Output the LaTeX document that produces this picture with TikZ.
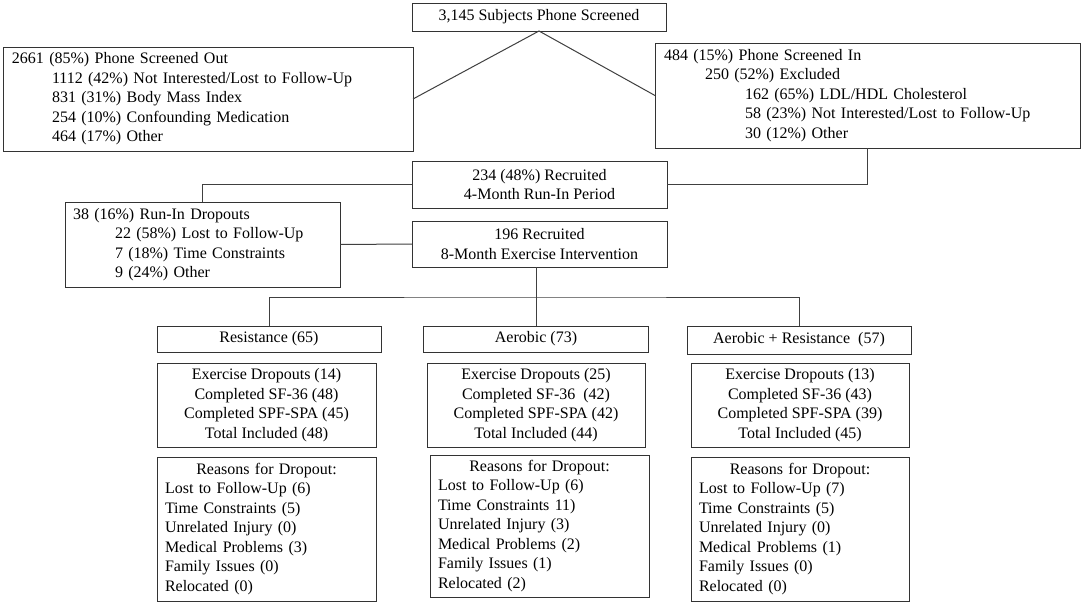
\documentclass[tikz,border=0pt]{standalone}
\usepackage{fontspec}
\setmainfont{Liberation Serif}
\begin{document}
\begin{tikzpicture}[x=1pt,y=-1pt,
  every node/.style={font=\fontsize{16}{19.5}\selectfont},
  box/.style={draw=black!80, line width=1pt, inner sep=0pt, outer sep=0pt},
  conn/.style={draw=black!75, line width=1pt}]
\useasboundingbox (0,0) rectangle (1084,605);
\fill[white] (0,0) rectangle (1084,605);

% top level
\node[box, minimum width=254pt, minimum height=28pt] (top) at (539,17) {3,145 Subjects Phone Screened};

\node[box, align=left, text width=392pt, inner xsep=9pt, minimum height=104pt] (scrOut) at (208,99)
 {2661 (85\%) Phone Screened Out\\
  \hspace*{40pt}1112 (42\%) Not Interested/Lost to Follow-Up\\
  \hspace*{40pt}831 (31\%) Body Mass Index\\
  \hspace*{40pt}254 (10\%) Confounding Medication\\
  \hspace*{40pt}464 (17\%) Other};

\node[box, align=left, text width=407pt, inner xsep=9pt, minimum height=105pt] (scrIn) at (867.5,95.5)
 {484 (15\%) Phone Screened In\\
  \hspace*{41pt}250 (52\%) Excluded\\
  \hspace*{81pt}162 (65\%) LDL/HDL Cholesterol\\
  \hspace*{81pt}58 (23\%) Not Interested/Lost to Follow-Up\\
  \hspace*{81pt}30 (12\%) Other};

\node[box, align=center, minimum width=255pt, minimum height=47pt] (recr) at (539.5,184.5)
 {234 (48\%) Recruited\\ 4-Month Run-In Period};

\node[box, align=left, text width=259pt, inner xsep=8pt, minimum height=85pt] (runin) at (202.5,244.5)
 {38 (16\%) Run-In Dropouts\\
  \hspace*{42pt}22 (58\%) Lost to Follow-Up\\
  \hspace*{42pt}7 (18\%) Time Constraints\\
  \hspace*{42pt}9 (24\%) Other};

\node[box, align=center, minimum width=255pt, minimum height=46pt] (interv) at (539.5,244)
 {196 Recruited\\ 8-Month Exercise Intervention};

% groups
\node[box, minimum width=224pt, minimum height=26pt] (res) at (269,339) {Resistance (65)};
\node[box, minimum width=225pt, minimum height=26pt] (aer) at (536,339) {Aerobic (73)};
\node[box, minimum width=224pt, minimum height=28pt] (ar) at (799,340) {Aerobic + Resistance\ \ (57)};

% stats
\node[box, align=center, minimum width=219pt, minimum height=84pt] (resS) at (266.5,405)
 {Exercise Dropouts (14)\\ Completed SF-36 (48)\\ Completed SPF-SPA (45)\\ Total Included (48)};
\node[box, align=center, minimum width=218pt, minimum height=84pt] (aerS) at (536,405)
 {Exercise Dropouts (25)\\ Completed SF-36\ \ (42)\\ Completed SPF-SPA (42)\\ Total Included (44)};
\node[box, align=center, minimum width=218pt, minimum height=84pt] (arS) at (800,405)
 {Exercise Dropouts (13)\\ Completed SF-36 (43)\\ Completed SPF-SPA (39)\\ Total Included (45)};

% reasons
\node[box, align=left, text width=203pt, inner xsep=8pt, minimum height=144pt] (resR) at (266.5,529)
 {\makebox[203pt]{Reasons for Dropout:}\\
  Lost to Follow-Up (6)\\ Time Constraints (5)\\ Unrelated Injury (0)\\
  Medical Problems (3)\\ Family Issues (0)\\ Relocated (0)};
\node[box, align=left, text width=203pt, inner xsep=8pt, minimum height=142pt] (aerR) at (539.5,526)
 {\makebox[203pt]{Reasons for Dropout:}\\
  Lost to Follow-Up (6)\\ Time Constraints 11)\\ Unrelated Injury (3)\\
  Medical Problems (2)\\ Family Issues (1)\\ Relocated (2)};
\node[box, align=left, text width=202pt, inner xsep=8pt, minimum height=144pt] (arR) at (800,529)
 {\makebox[202pt]{Reasons for Dropout:}\\
  Lost to Follow-Up (7)\\ Time Constraints (5)\\ Unrelated Injury (0)\\
  Medical Problems (1)\\ Family Issues (0)\\ Relocated (0)};

% connectors
\draw[conn] (scrOut.east) -- (top.south) -- (scrIn.west);
\draw[conn] (scrIn.south) |- (recr.east);
\draw[conn] (recr.west) -| (runin.north);
\draw[conn] (runin.east) -- (interv.west);
\coordinate (split) at (536,297);
\draw[conn] (aer.north) -- (aer.north |- interv.south);
\draw[conn] (res.north) |- (split) -| (ar.north);
\end{tikzpicture}
\end{document}
